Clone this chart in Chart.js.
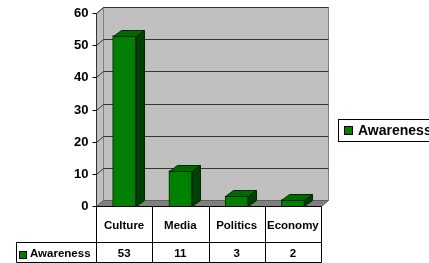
<!DOCTYPE html>
<html>
<head>
<meta charset="utf-8">
<script src="https://cdn.jsdelivr.net/npm/chart.js@4.4.1/dist/chart.umd.min.js"></script>
<style>
	html, body { margin: 0; padding: 0; background: #fff; }
	canvas { display: block; }
</style>
</head>
<body>
<canvas id="chart" width="429" height="263"></canvas>
<script>
	var categories = ['Culture', 'Media', 'Politics', 'Economy'];
	var seriesName = 'Awareness';
	var awareness = [53, 11, 3, 2];
	var yTicks = [0, 10, 20, 30, 40, 50, 60];

	var FONT = '"Liberation Sans", Arial, sans-serif';
	var DX = 7, DY = -6;  // depth of the 3d box
	var BDX = 8, BDY = -6; // depth of the bars

	function poly(ctx, pts, fill, stroke) {
		ctx.beginPath();
		ctx.moveTo(pts[0][0], pts[0][1]);
		for (var i = 1; i < pts.length; i++) ctx.lineTo(pts[i][0], pts[i][1]);
		ctx.closePath();
		if (fill) { ctx.fillStyle = fill; ctx.fill(); }
		if (stroke) { ctx.strokeStyle = stroke; ctx.lineWidth = 1; ctx.stroke(); }
	}

	function line(ctx, x1, y1, x2, y2, color) {
		ctx.beginPath();
		ctx.moveTo(x1, y1);
		ctx.lineTo(x2, y2);
		ctx.strokeStyle = color;
		ctx.lineWidth = 1;
		ctx.stroke();
	}

	var box3d = {
		id: 'box3d',
		beforeDatasetsDraw: function(chart) {
			var ctx = chart.ctx;
			var a = chart.chartArea;
			var y = chart.scales.y;
			var L = Math.round(a.left) + 0.5, R = Math.round(a.right) + 0.5;
			var T = Math.round(a.top) + 0.5, B = Math.round(a.bottom) + 0.5;
			ctx.save();
			// back wall
			poly(ctx, [[L + DX, T + DY], [R + DX, T + DY], [R + DX, B + DY], [L + DX, B + DY]], '#c0c0c0', '#808080');
			// side wall
			poly(ctx, [[L, T], [L + DX, T + DY], [L + DX, B + DY], [L, B]], '#c0c0c0', '#808080');
			// floor
			poly(ctx, [[L, B], [L + DX, B + DY], [R + DX, B + DY], [R, B]], '#808080', '#606060');
			// gridlines
			yTicks.forEach(function(v) {
				if (v === 0) return;
				var py = Math.round(y.getPixelForValue(v)) + 0.5;
				line(ctx, L, py, L + DX, py + DY, '#333');
				line(ctx, L + DX, py + DY, R + DX, py + DY, '#333');
			});
			// axis line and ticks
			line(ctx, L, T, L, B, '#333');
			ctx.font = 'bold 13px ' + FONT;
			ctx.fillStyle = '#000';
			ctx.textAlign = 'right';
			ctx.textBaseline = 'middle';
			yTicks.forEach(function(v) {
				var py = Math.round(y.getPixelForValue(v)) + 0.5;
				line(ctx, L - 4, py, L, py, '#000');
				ctx.fillText(String(v), L - 8, py);
			});

			// data table
			var x = chart.scales.x;
			var half = (x.getPixelForValue(1) - x.getPixelForValue(0)) / 2;
			var rowTop = B, rowMid = B + 36, rowBot = 262.5;
			var tableLeft = 16.5;
			line(ctx, L, rowTop, R, rowTop, '#000');
			line(ctx, tableLeft, rowMid, R, rowMid, '#000');
			line(ctx, tableLeft, rowBot, R, rowBot, '#000');
			line(ctx, tableLeft, rowMid, tableLeft, rowBot, '#000');
			line(ctx, L, rowTop, L, rowBot, '#000');
			ctx.font = 'bold 11.5px ' + FONT;
			ctx.textAlign = 'center';
			categories.forEach(function(c, i) {
				var cx = x.getPixelForValue(i);
				var xr = Math.round(cx + half) + 0.5;
				line(ctx, xr, rowTop, xr, rowBot, '#000');
				ctx.fillText(c, cx, (rowTop + rowMid) / 2 + 1);
				ctx.fillText(String(awareness[i]), cx, (rowMid + rowBot) / 2 + 1);
			});
			// legend key inside table
			ctx.fillStyle = '#008000';
			ctx.fillRect(19.5, 251.5, 7, 7);
			ctx.strokeStyle = '#000';
			ctx.strokeRect(19.5, 251.5, 7, 7);
			ctx.fillStyle = '#000';
			ctx.textAlign = 'left';
			ctx.fillText(seriesName, 30, (rowMid + rowBot) / 2 + 1);

			// legend on the right
			ctx.strokeStyle = '#000';
			ctx.strokeRect(338.5, 119.5, 100, 22);
			ctx.fillStyle = '#008000';
			ctx.fillRect(344.5, 126.5, 8, 8);
			ctx.strokeRect(344.5, 126.5, 8, 8);
			ctx.fillStyle = '#000';
			ctx.font = 'bold 14px ' + FONT;
			ctx.fillText(seriesName, 358, 131);
			ctx.restore();
		},
		afterDatasetsDraw: function(chart) {
			var ctx = chart.ctx;
			var meta = chart.getDatasetMeta(0);
			ctx.save();
			meta.data.forEach(function(bar) {
				var p = bar.getProps(['x', 'y', 'base', 'width'], true);
				var x0 = Math.round(p.x - p.width / 2) + 0.5;
				var x1 = Math.round(p.x + p.width / 2) + 0.5;
				var top = Math.round(p.y) + 0.5;
				var base = Math.round(p.base) + 0.5;
				// top face
				poly(ctx, [[x0, top], [x0 + BDX, top + BDY], [x1 + BDX, top + BDY], [x1, top]], '#006a00', '#002800');
				// side face
				poly(ctx, [[x1, top], [x1 + BDX, top + BDY], [x1 + BDX, base + BDY], [x1, base]], '#004000', '#002800');
			});
			ctx.restore();
		}
	};

	new Chart(document.getElementById('chart'), {
		type: 'bar',
		data: {
			labels: categories,
			datasets: [{
				label: seriesName,
				data: awareness,
				backgroundColor: '#008000',
				borderColor: '#002800',
				borderWidth: 1,
				barThickness: 23
			}]
		},
		options: {
			responsive: false,
			animation: false,
			devicePixelRatio: 1,
			layout: { padding: { left: 96, top: 13, right: 108, bottom: 57 } },
			plugins: { legend: { display: false }, tooltip: { enabled: false } },
			scales: {
				x: { display: false },
				y: { display: false, min: 0, max: 60, ticks: { stepSize: 10 } }
			}
		},
		plugins: [box3d]
	});
</script>
</body>
</html>
